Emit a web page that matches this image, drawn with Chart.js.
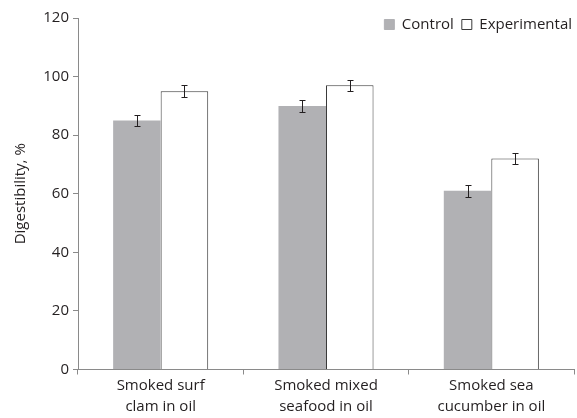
<!DOCTYPE html>
<html>
<head>
<meta charset="utf-8">
<script src="https://cdn.jsdelivr.net/npm/chart.js@4/dist/chart.umd.min.js"></script>
<style>
  html, body { margin: 0; padding: 0; background: #fff; }
  #wrap { width: 577px; height: 418px; }
</style>
</head>
<body>
<div id="wrap"><canvas id="myChart"></canvas></div>
<script>
// data
var categories = [['Smoked surf', 'clam in oil'], ['Smoked mixed', 'seafood in oil'], ['Smoked sea', 'cucumber in oil']];
var controlValues = [85, 90, 61];
var controlErrors = [2, 2, 2];
var experimentalValues = [95, 97, 72];
var experimentalErrors = [2, 2, 2];
var yTicks = [0, 20, 40, 60, 80, 100, 120];

var FONT = "'Open Sans', sans-serif";

// draws the whiskers on top of the bars
var errorBars = {
    id: 'errorBars',
    afterDatasetsDraw: function (chart) {
        var ctx = chart.ctx;
        var y = chart.scales.y;
        ctx.save();
        ctx.strokeStyle = '#231f20';
        ctx.lineWidth = 1;
        chart.data.datasets.forEach(function (ds, di) {
            var meta = chart.getDatasetMeta(di);
            meta.data.forEach(function (bar, i) {
                var v = ds.data[i], e = ds.errors[i];
                var top = Math.round(y.getPixelForValue(v + e)) + 0.5;
                var bot = Math.round(y.getPixelForValue(v - e)) + 0.5;
                var x = Math.round(bar.x) + 0.5;
                ctx.beginPath();
                ctx.moveTo(x, top); ctx.lineTo(x, bot);
                ctx.moveTo(x - 3, top); ctx.lineTo(x + 3, top);
                ctx.moveTo(x - 3, bot); ctx.lineTo(x + 3, bot);
                ctx.stroke();
            });
        });
        ctx.restore();
    }
};

// let the legend sit over the top of the plot, like in the figure
var legendOverlap = {
    id: 'legendOverlap',
    beforeLayout: function (chart) {
        var lg = chart.legend;
        if (lg && !lg._patched) {
            var fit = lg.fit, draw = lg.draw;
            lg.fit = function () { fit.call(this); this._fullH = this.height; this.height = 9; };
            lg.draw = function (area) {
                var h = this.height, b = this.bottom;
                this.height = this._fullH; this.bottom = this.top + this._fullH;
                this.ctx.save();
                this.ctx.translate(6, 0);
                draw.call(this, area);
                this.ctx.restore();
                this.height = h; this.bottom = b;
            };
            lg._patched = true;
        }
    }
};

var ctx = document.getElementById('myChart').getContext('2d');
var chart = new Chart(ctx, {
    type: 'bar',
    data: {
        labels: categories,
        datasets: [{
            label: 'Control',
            data: controlValues,
            errors: controlErrors,
            backgroundColor: '#b1b1b4',
            borderWidth: 0,
            categoryPercentage: 0.575,
            barPercentage: 1
        }, {
            label: 'Experimental',
            data: experimentalValues,
            errors: experimentalErrors,
            backgroundColor: '#ffffff',
            borderColor: '#3a3a3a',
            borderWidth: 1,
            categoryPercentage: 0.575,
            barPercentage: 1
        }]
    },
    options: {
        responsive: true,
        maintainAspectRatio: false,
        animation: false,
        layout: { padding: { top: 9, right: 3, left: 12, bottom: 0 } },
        plugins: {
            tooltip: { enabled: false },
            legend: {
                position: 'top',
                align: 'end',
                labels: {
                    color: '#231f20',
                    font: { family: FONT, size: 15 },
                    boxWidth: 10,
                    boxHeight: 10,
                    padding: 8,
                    generateLabels: function (c) {
                        return c.data.datasets.map(function (ds, i) {
                            return {
                                text: ds.label,
                                fillStyle: ds.backgroundColor,
                                strokeStyle: i === 0 ? '#b1b1b4' : '#3a3a3a',
                                lineWidth: 1,
                                fontColor: '#231f20',
                                datasetIndex: i
                            };
                        });
                    }
                }
            }
        },
        scales: {
            x: {
                grid: { display: true, drawOnChartArea: false, color: '#8a8a8a', tickLength: 5 },
                border: { color: '#8a8a8a' },
                ticks: { color: '#231f20', font: { family: FONT, size: 15, lineHeight: 1.45 }, padding: 0, maxRotation: 0 }
            },
            y: {
                min: 0,
                max: 120,
                afterBuildTicks: function (s) { s.ticks = yTicks.map(function (v) { return { value: v }; }); },
                afterFit: function (s) { s.width = 66; },
                grid: { display: true, drawOnChartArea: false, color: '#8a8a8a', tickLength: 5 },
                border: { color: '#8a8a8a' },
                ticks: { color: '#231f20', font: { family: FONT, size: 15 }, padding: 4 },
                title: {
                    display: true,
                    text: 'Digestibility, %',
                    color: '#231f20',
                    font: { family: FONT, size: 15 },
                    padding: 0
                }
            }
        }
    },
    plugins: [errorBars, legendOverlap]
});
</script>
</body>
</html>
